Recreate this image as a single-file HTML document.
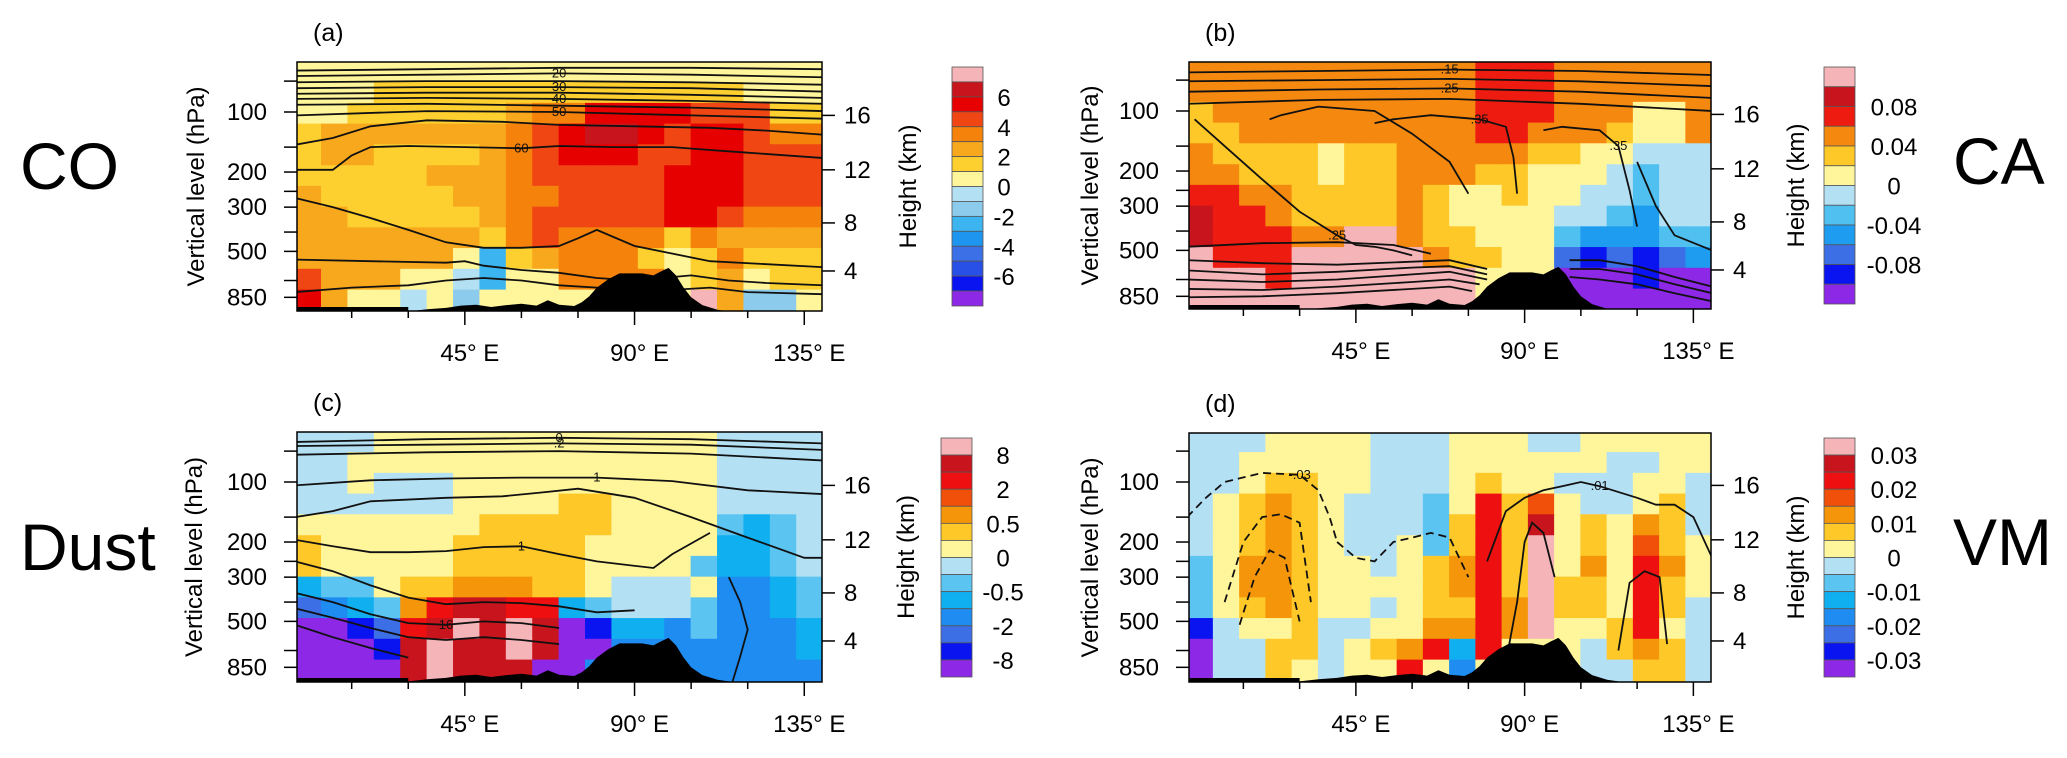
<!DOCTYPE html>
<html><head><meta charset="utf-8"><title>Cross sections</title>
<style>
html,body{margin:0;padding:0;background:#fff;}
svg{display:block;font-family:"Liberation Sans",Arial,sans-serif;}
</style></head>
<body>
<svg id="fig" width="2067" height="758" viewBox="0 0 2067 758" xmlns="http://www.w3.org/2000/svg"></svg>
<script>
// ---------- shared data ----------
const lonEdges = [0,7,14,21,28,35,42,49,56,63,70,77,84,91,98,105,112,119,126,133,140];
const levelEdges = [56,71.2,90.5,115,146,186,236,300,381,484,615,782,1000];
const xTickLon = [45,90,135];
const xTickLabels = ["45\u00b0 E","90\u00b0 E","135\u00b0 E"];
const xMinorLon = [15,30,60,75,105,120];
const pTicks = [70,100,150,200,250,300,400,500,700,850];
const pTickLabels = ["","100","","200","","300","","500","","850"];
const hTickP = [104,195,360,627];
const hTickLabels = ["16","12","8","4"];
const terrainLon = [30,35,40,44,48,52,56,60,64,67,70,74,76,78,80,83,86,89,92,95,97,99,101,103,105,108,112,115];
const terrainP =   [1000,975,960,935,925,950,930,915,935,880,925,940,900,840,760,690,645,645,645,660,630,605,660,760,850,930,980,1000];

// CO (a)
const coBounds = [-7,-6,-5,-4,-3,-2,-1,0,1,2,3,4,5,6,7];
const coColors = ['#8c28e6','#0a14f0','#2850e6','#3c70e6','#1e96f0','#3cb4f0','#8ccbec','#b4e0f4','#fff59a','#fdd030','#f8a81c','#f5820a','#f04614','#e60000','#c8141c','#f4b4b8'];
const coGrid = [
 [0.5,0.5,0.5,0.5,0.5,0.5,0.5,0.5,0.5,0.5,0.5,0.5,0.5,0.5,0.5,0.5,0.5,0.5,0.5,0.5],
 [0.5,0.5,0.5,1.5,1.5,1.5,1.5,1.5,1.5,1.5,1.5,1.5,1.5,1.5,1.5,1.5,1.5,0.5,0.5,0.5],
 [0.5,0.5,1.5,1.5,1.5,1.5,1.5,1.5,2.5,3.5,3.5,5.5,5.5,5.5,5.5,4.5,4.5,4.5,1.5,1.5],
 [1.5,2.5,2.5,2.5,2.5,2.5,2.5,2.5,3.5,4.5,5.5,6.5,6.5,5.5,4.5,5.5,5.5,4.5,3.5,3.5],
 [1.5,2.5,2.5,1.5,1.5,1.5,1.5,2.5,3.5,4.5,5.5,5.5,5.5,4.5,4.5,5.5,5.5,4.5,4.5,4.5],
 [1.5,1.5,1.5,1.5,1.5,2.5,2.5,2.5,3.5,4.5,4.5,4.5,4.5,4.5,5.5,5.5,5.5,4.5,4.5,4.5],
 [2.5,1.5,1.5,1.5,1.5,1.5,2.5,2.5,3.5,3.5,4.5,4.5,4.5,4.5,5.5,5.5,5.5,4.5,4.5,4.5],
 [2.5,2.5,1.5,1.5,1.5,1.5,1.5,2.5,3.5,4.5,4.5,4.5,4.5,4.5,5.5,5.5,4.5,3.5,3.5,3.5],
 [2.5,2.5,2.5,2.5,2.5,2.5,2.5,1.5,3.5,4.5,3.5,3.5,3.5,3.5,1.5,3.5,2.5,2.5,2.5,2.5],
 [2.5,2.5,2.5,2.5,2.5,2.5,0.5,-2.5,1.5,2.5,3.5,3.5,3.5,1.5,0.5,1.5,3.5,1.5,1.5,1.5],
 [4.5,2.5,2.5,2.5,0.5,0.5,-0.5,-2.5,0.5,0.5,3.5,3.5,3.5,3.5,0.5,1.5,2.5,0.5,1.5,1.5],
 [5.5,2.5,0.5,0.5,-0.5,0.5,-1.5,0.5,0.5,0.5,0.5,0.5,0.5,0.5,0.5,7.5,2.5,-1.5,-1.5,0.5]
];
const coContours = [
 {lon:[0,35,70,105,140], p:[62,61,60,60,61], label:""},
 {lon:[0,35,70,105,140], p:[66,65,64,65,67], label:"20"},
 {lon:[0,35,70,105,140], p:[71,70,70,71,73], label:""},
 {lon:[0,35,70,105,140], p:[76,75,75,76,79], label:"30"},
 {lon:[0,35,70,105,140], p:[81,80,80,82,85], label:""},
 {lon:[0,35,70,105,140], p:[86,85,86,88,91], label:"40"},
 {lon:[0,35,70,105,140], p:[92,91,93,95,99], label:""},
 {lon:[0,35,70,105,140], p:[104,99,100,104,108], label:"50"},
 {lon:[0,10,20,35,55,70,90,110,125,140], p:[146,135,118,110,112,116,118,120,124,130], label:""},
 {lon:[0,10,15,20,30,45,60,70,85,100,110,120,140], p:[195,195,165,150,148,150,152,148,150,150,155,160,170], label:"60"},
 {lon:[0,10,20,30,40,50,60,70,75,80,90,110,140], p:[270,300,340,390,450,480,480,470,430,390,470,560,600], label:""},
 {lon:[0,20,40,45,50,60,70,80,90,105,115,125,140], p:[550,560,570,560,590,620,640,680,700,660,700,720,740], label:""},
 {lon:[0,15,30,40,50,60,70,80,100,110,120,140], p:[800,760,740,700,680,700,740,760,780,760,800,820], label:""}
];

// CA (b) values in units of 0.01
const caBounds = [-10,-8,-6,-4,-2,0,2,4,6,8,10];
const caColors = ['#8c28e6','#0a14f0','#3c6ee6','#1e9cf0','#50c0f0','#b4e0f4','#fff59a','#fdc828','#f5880f','#ee1c10','#c8141c','#f4b4b8'];
const caGrid = [
 [5,5,5,5,5,5,5,5,5,5,5,7,7,7,5,5,5,5,5,5],
 [5,5,5,5,5,5,5,5,5,5,5,7,7,7,5,5,5,5,5,5],
 [3,5,5,5,5,5,5,5,5,5,5,7,7,7,5,5,5,1,1,5],
 [3,3,5,5,5,5,5,5,5,5,5,7,7,5,5,5,3,1,1,5],
 [5,3,3,3,3,1,3,3,5,5,5,5,5,3,3,1,1,-1,-1,-1],
 [5,5,3,3,3,1,3,3,5,5,5,3,3,1,1,1,-1,-3,-1,-1],
 [7,7,5,5,3,3,3,3,5,3,1,1,3,1,1,-1,-1,-3,-1,-1],
 [9,7,7,5,3,3,3,3,5,3,1,1,1,1,-1,-1,-3,-5,-1,-1],
 [9,7,7,7,5,5,11,11,5,3,3,1,1,1,-3,-5,-5,-5,-3,-3],
 [11,7,7,7,11,11,11,11,11,5,3,3,1,1,-7,-9,-7,-9,-7,-5],
 [11,11,11,7,11,11,11,11,11,11,11,1,1,1,-11,-11,-11,-9,-11,-11],
 [11,11,11,11,11,11,11,11,11,11,11,1,1,1,-11,-11,-11,-11,-11,-11]
];
const caContours = [
 {lon:[0,35,70,105,140], p:[64,63,62,63,66], label:".15"},
 {lon:[0,35,70,105,140], p:[71,70,69,71,75], label:""},
 {lon:[0,35,70,105,140], p:[80,78,77,80,86], label:".25"},
 {lon:[0,35,70,105,140], p:[92,88,87,92,100], label:""},
 {lon:[2,10,20,30,40,45,50,55,60], p:[110,150,220,320,420,470,480,500,530], label:".25"},
 {lon:[22,25,35,50,60,70,75], p:[110,105,95,100,130,180,260], label:""},
 {lon:[50,55,65,78,85,87,88], p:[115,110,105,110,120,170,260], label:".35"},
 {lon:[95,100,110,115,118,120], p:[125,120,125,150,250,380], label:".35"},
 {lon:[0,20,40,55,65], p:[480,460,455,470,520], label:""},
 {lon:[0,20,40,60,70,80], p:[560,580,590,570,560,620], label:""},
 {lon:[0,20,40,60,70,80], p:[630,660,640,610,600,660], label:""},
 {lon:[0,20,40,60,70,80], p:[700,720,700,660,640,700], label:""},
 {lon:[0,20,40,60,70,78], p:[780,790,760,720,700,740], label:""},
 {lon:[0,20,40,60,70,76], p:[860,850,820,780,760,800], label:""},
 {lon:[102,110,120,130,140], p:[560,560,600,680,760], label:""},
 {lon:[102,110,120,130,140], p:[620,620,660,740,820], label:""},
 {lon:[102,110,120,130,140], p:[680,700,740,820,900], label:""},
 {lon:[120,125,130,140], p:[180,300,420,500], label:""}
];

// Dust (c)
const dustBounds = [-8,-4,-2,-1,-0.5,-0.25,0,0.25,0.5,1,2,4,8];
const dustColors = ['#8c28e6','#0a14f0','#3c6ee6','#1e8cf0','#10b0f0','#5cc4f0','#b4e0f4','#fff59a','#fdc828','#f5960a','#f0500a','#ee1010','#c8141c','#f4b4b8'];
const dustGrid = [
 [-0.1,-0.1,-0.1,0.1,0.1,0.1,0.1,0.1,0.1,0.1,0.1,0.1,0.1,0.1,0.1,0.1,-0.1,-0.1,-0.1,-0.1],
 [-0.1,-0.1,0.1,0.1,0.1,0.1,0.1,0.1,0.1,0.1,0.1,0.1,0.1,0.1,0.1,0.1,-0.1,-0.1,-0.1,-0.1],
 [-0.1,-0.1,0.1,-0.1,-0.1,-0.1,0.1,0.1,0.1,0.1,0.1,0.1,0.1,0.1,0.1,0.1,-0.1,-0.1,-0.1,-0.1],
 [-0.1,-0.1,-0.1,-0.1,-0.1,-0.1,0.1,0.1,0.1,0.1,0.4,0.4,0.1,0.1,0.1,0.1,-0.1,-0.1,-0.1,-0.1],
 [0.1,0.1,0.1,0.1,0.1,0.1,0.1,0.4,0.4,0.4,0.4,0.4,0.1,0.1,0.1,0.1,-0.4,-0.75,-0.4,-0.1],
 [0.4,0.1,0.1,0.1,0.1,0.1,0.4,0.4,0.4,0.4,0.4,0.1,0.1,0.1,0.1,0.1,-0.75,-0.75,-0.4,-0.1],
 [0.4,0.1,0.1,0.1,0.1,0.1,0.4,0.4,0.4,0.4,0.4,0.1,0.1,0.1,0.1,-0.4,-0.75,-0.75,-0.4,-0.1],
 [-0.75,-0.4,-0.4,0.1,0.4,0.4,0.75,0.75,0.75,0.4,0.4,0.1,-0.1,-0.1,-0.1,0.1,-1.5,-1.5,-0.75,-0.4],
 [-3,-1.5,-0.75,-0.4,0.75,3,6,6,3,3,-0.75,-0.4,-0.1,-0.1,-0.1,-0.4,-1.5,-1.5,-0.75,-0.4],
 [-10,-10,-6,-3,3,6,10,6,10,6,-10,-6,-0.75,-0.75,-1.5,-0.4,-1.5,-1.5,-1.5,-0.75],
 [-10,-10,-10,-6,6,10,6,6,10,6,-10,-10,-1.5,-1.5,-1.5,-1.5,-1.5,-1.5,-1.5,-0.75],
 [-10,-10,-10,-10,6,10,6,6,6,-10,-10,-1.5,-1.5,-1.5,-1.5,-1.5,-1.5,-1.5,-1.5,-1.5]
];
const dustContours = [
 {lon:[0,35,70,105,140], p:[63,61,60,61,64], label:"0"},
 {lon:[0,35,70,105,140], p:[66,65,64,65,69], label:".2"},
 {lon:[0,35,70,105,140], p:[73,71,70,72,78], label:""},
 {lon:[0,20,40,60,80,100,120,140], p:[104,98,96,95,95,99,110,115], label:"1"},
 {lon:[0,10,20,40,55,65,75,90,105,120,135,140], p:[150,140,125,120,118,113,108,120,150,190,240,240], label:""},
 {lon:[0,10,20,30,40,50,60,70,80,95,100,110], p:[195,210,225,225,222,212,210,230,250,270,230,180], label:"1"},
 {lon:[0,10,20,30,40,50,60,70,80,90], p:[250,280,330,380,410,400,405,420,450,440], label:""},
 {lon:[0,10,20,30,40,50,60,70], p:[360,400,460,510,520,500,510,540], label:"16"},
 {lon:[0,10,20,30,40,50,60,70], p:[430,480,540,600,620,600,620,650], label:""},
 {lon:[0,10,20,30], p:[520,600,680,760], label:""},
 {lon:[115,118,120,118,116], p:[300,400,550,750,1000], label:""}
];

// VM (d) values in units of 0.001
const vmBounds = [-30,-25,-20,-15,-10,-5,0,5,10,15,20,25,30];
const vmColors = ['#8c28e6','#0a14f0','#3c6ee6','#1e8cf0','#10b0f0','#5cc4f0','#b4e0f4','#fff59a','#fdc828','#f5960a','#f0500a','#ee1010','#c8141c','#f4b4b8'];
const vmGrid = [
 [-2,-2,-2,2,2,2,2,-2,-2,-2,2,2,2,-2,-2,2,2,2,2,2],
 [-2,-2,2,2,2,2,2,-2,-2,-2,2,2,2,2,2,2,-2,-2,2,2],
 [-2,-2,2,7,7,2,2,-2,-2,-2,2,7,2,2,-2,-2,-2,2,2,-2],
 [-2,2,7,12,7,2,-2,-2,-2,-7,2,22,7,17,2,-2,-2,2,7,-2],
 [-2,2,7,12,7,2,-2,-2,-2,-7,7,22,7,27,2,7,2,12,7,-2],
 [-2,2,7,12,7,2,-2,-2,2,-7,7,22,7,35,2,7,2,17,7,2],
 [-7,2,12,12,7,2,2,-2,2,7,12,22,7,35,2,12,2,22,12,2],
 [-7,2,12,12,7,2,2,2,2,7,12,22,7,35,7,7,2,22,7,2],
 [-7,2,7,12,7,2,2,-2,2,7,7,22,12,35,7,7,2,22,7,-2],
 [-27,-2,2,2,7,-2,-2,2,2,12,12,22,12,35,2,2,7,22,2,-2],
 [-35,-2,-2,7,7,-2,2,7,12,22,-12,22,2,2,2,-2,7,12,7,-2],
 [-35,-2,-2,7,2,-2,2,2,22,2,-17,2,2,2,2,-2,-2,7,7,-2]
];
const vmContours = [
 {lon:[0,5,10,20,30,35,38,40], p:[150,120,100,90,92,110,150,200], label:"-.03", dash:true},
 {lon:[10,15,20,25,30,33], p:[400,200,150,145,160,400], label:"", dash:true},
 {lon:[14,18,22,26,30], p:[520,300,220,240,500], label:"", dash:true},
 {lon:[40,45,50,55,60,65,70,75], p:[200,240,250,200,190,180,190,300], label:"", dash:true},
 {lon:[80,85,90,95,100,105,110,120,125,130,135,140], p:[250,140,120,110,105,100,105,120,130,130,150,240], label:".01", solid:true},
 {lon:[85,88,90,92,95,98], p:[800,400,200,160,180,300], label:"", solid:true},
 {lon:[115,118,122,126,128], p:[700,320,280,300,650], label:"", solid:true}
];

// ---------- drawing ----------
const svg = document.getElementById('fig');
const NS = 'http://www.w3.org/2000/svg';
function mk(tag, attrs, parent){
  const e = document.createElementNS(NS, tag);
  for (const k in attrs) e.setAttribute(k, attrs[k]);
  (parent||svg).appendChild(e);
  return e;
}
function colorFor(v, bounds, colors){
  let i = 0;
  while (i < bounds.length && v >= bounds[i]) i++;
  return colors[i];
}

const panels = [
 {id:'a', name:'co', left:297, right:822, top:62, bottom:311, y100:112, grid:coGrid, bounds:coBounds, colors:coColors, contours:coContours,
  cbX:952, cbTop:67, cbBot:306, cbLabels:["6","4","2","0","-2","-4","-6"], cbLabelIdx:[2,4,6,8,10,12,14], cbLabelX:1004,
  yLabX:195, hLabX:907, side:'CO', sideX:20, sideY:165},
 {id:'b', name:'ca', left:1189, right:1711, top:62, bottom:309, y100:111, grid:caGrid, bounds:caBounds, colors:caColors, contours:caContours,
  cbX:1824, cbTop:67, cbBot:304, cbLabels:["0.08","0.04","0","-0.04","-0.08"], cbLabelIdx:[2,4,6,8,10], cbLabelX:1894,
  yLabX:1089, hLabX:1795, side:'CA', sideX:1953, sideY:160},
 {id:'c', name:'dust', left:297, right:822, top:432, bottom:682, y100:482, grid:dustGrid, bounds:dustBounds, colors:dustColors, contours:dustContours,
  cbX:941, cbTop:438, cbBot:677, cbLabels:["8","2","0.5","0","-0.5","-2","-8"], cbLabelIdx:[1,3,5,7,9,11,13], cbLabelX:1003,
  yLabX:193, hLabX:905, side:'Dust', sideX:20, sideY:546},
 {id:'d', name:'vm', left:1189, right:1711, top:433, bottom:682, y100:482, grid:vmGrid, bounds:vmBounds, colors:vmColors, contours:vmContours,
  cbX:1824, cbTop:438, cbBot:677, cbLabels:["0.03","0.02","0.01","0","-0.01","-0.02","-0.03"], cbLabelIdx:[1,3,5,7,9,11,13], cbLabelX:1894,
  yLabX:1089, hLabX:1795, side:'VM', sideX:1953, sideY:541}
];

panels.forEach(P => {
  const g = mk('g', {});
  
  
  const xs = lon => P.left + (lon - 0.5) / 139.2 * (P.right - P.left);
  const ys = p => P.y100 + 86.6 * Math.log(p / 100);
  const clipId = 'clip' + P.id;
  const cp = mk('clipPath', {id: clipId}, g);
  mk('rect', {x:P.left, y:P.top, width:P.right-P.left, height:P.bottom-P.top}, cp);
  const plot = mk('g', {'clip-path':'url(#'+clipId+')'}, g);
  
  
  // cells
  P.grid.forEach((row, j) => {
    row.forEach((v, i) => {
      const x0 = xs(lonEdges[i]), x1 = xs(lonEdges[i+1]);
      const y0 = ys(levelEdges[j]), y1 = ys(levelEdges[j+1]);
      const r = mk('rect', {x:x0-0.5, y:y0-0.5, width:x1-x0+1, height:y1-y0+1, fill:colorFor(v, P.bounds, P.colors)}, plot);
      
      
    });
  });
  // contours
  P.contours.forEach(c => {
    const pts = c.lon.map((lo, k) => xs(lo).toFixed(1) + ',' + ys(c.p[k]).toFixed(1)).join(' ');
    const pl = mk('polyline', {points:pts, fill:'none', stroke:'#111', 'stroke-width':1.8, 'stroke-dasharray': c.dash ? '8,5' : 'none'}, plot);
    
    
    if (c.label) {
      const k = Math.floor(c.lon.length / 2);
      const t = mk('text', {x:xs(c.lon[k]), y:ys(c.p[k]) + 4, 'font-size':13, 'text-anchor':'middle', fill:'#111'}, plot);
      t.textContent = c.label;
      
      
    }
  });
  // terrain
  let tp = terrainLon.map((lo, k) => xs(lo).toFixed(1) + ',' + ys(terrainP[k]).toFixed(1));
  tp.push(xs(115).toFixed(1) + ',' + (P.bottom+2), xs(30).toFixed(1) + ',' + (P.bottom+2));
  const terr = mk('polygon', {points:tp.join(' '), fill:'#000'}, plot);
  
  
  mk('rect', {x:P.left, y:P.bottom-4, width:xs(30)-P.left, height:4, fill:'#000'}, plot);
  // frame
  const fr = mk('rect', {x:P.left, y:P.top, width:P.right-P.left, height:P.bottom-P.top, fill:'none', stroke:'#000', 'stroke-width':1.5}, g);
  
  
  // left ticks
  pTicks.forEach((p, k) => {
    const y = ys(p);
    mk('line', {x1:P.left-13, x2:P.left, y1:y, y2:y, stroke:'#000', 'stroke-width':1.5}, g);
    if (pTickLabels[k]) {
      const t = mk('text', {x:P.left-30, y:y+8, 'font-size':24, 'text-anchor':'end'}, g);
      t.textContent = pTickLabels[k];
      
      
    }
  });
  // right ticks
  hTickP.forEach((p, k) => {
    const y = ys(p);
    mk('line', {x1:P.right, x2:P.right+13, y1:y, y2:y, stroke:'#000', 'stroke-width':1.5}, g);
    const t = mk('text', {x:P.right+22, y:y+8, 'font-size':24}, g);
    t.textContent = hTickLabels[k];
    
    
  });
  // bottom ticks
  xMinorLon.forEach(lo => mk('line', {x1:xs(lo), x2:xs(lo), y1:P.bottom, y2:P.bottom+7, stroke:'#000', 'stroke-width':1.5}, g));
  xTickLon.forEach((lo, k) => {
    mk('line', {x1:xs(lo), x2:xs(lo), y1:P.bottom, y2:P.bottom+14, stroke:'#000', 'stroke-width':1.5}, g);
    const t = mk('text', {x:xs(lo)+5, y:P.bottom+50, 'font-size':24, 'text-anchor':'middle'}, g);
    t.textContent = xTickLabels[k];
    
    
  });
  // titles
  const pl = mk('text', {x:P.left+16, y:P.top-21, 'font-size':25}, g);
  pl.textContent = '(' + P.id + ')';
  
  
  const cy = (P.top + P.bottom) / 2;
  const yl = mk('text', {x:0, y:0, 'font-size':24, 'text-anchor':'middle', transform:'translate(' + (P.yLabX+9) + ',' + cy + ') rotate(-90)'}, g);
  yl.textContent = 'Vertical level (hPa)';
  
  
  const hl = mk('text', {x:0, y:0, 'font-size':24, 'text-anchor':'middle', transform:'translate(' + (P.hLabX+9) + ',' + cy + ') rotate(-90)'}, g);
  hl.textContent = 'Height (km)';
  
  
  const sd = mk('text', {x:P.sideX, y:P.sideY+24, 'font-size':66}, g);
  sd.textContent = P.side;
  
  
  // colorbar
  const n = P.colors.length;
  const bh = (P.cbBot - P.cbTop) / n;
  const cb = mk('g', {}, g);
  
  
  for (let k = 0; k < n; k++) {
    const r = mk('rect', {x:P.cbX, y:P.cbTop + k*bh, width:31, height:bh, fill:P.colors[n-1-k], stroke:'#555', 'stroke-width':0.8}, cb);
    
    
  }
  P.cbLabels.forEach((lab, k) => {
    const y = P.cbTop + P.cbLabelIdx[k]*bh;
    const t = mk('text', {x:P.cbLabelX, y:y+9, 'font-size':24, 'text-anchor':'middle'}, cb);
    t.textContent = lab;
    
    
  });
});
</script>
</body></html>
